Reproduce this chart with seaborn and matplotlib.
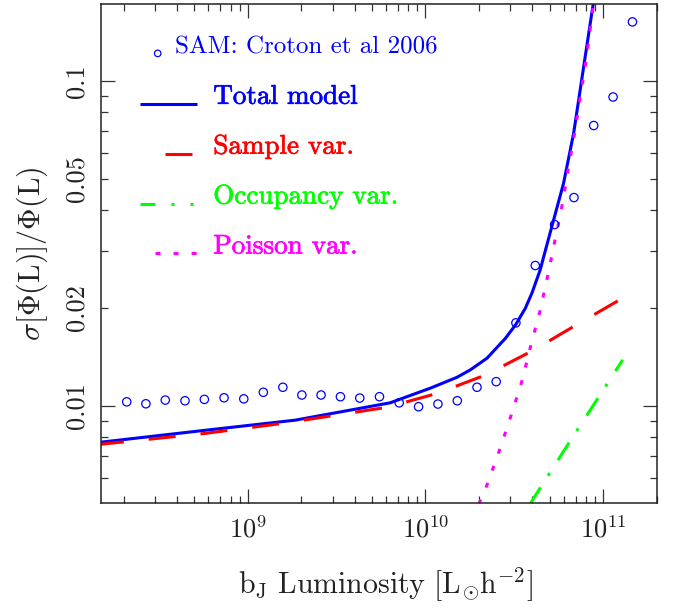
import numpy as np
import matplotlib
matplotlib.use("Agg")
import matplotlib.pyplot as plt
import matplotlib.patheffects as pe
from matplotlib.ticker import FixedLocator, FixedFormatter, LogLocator, NullFormatter
import seaborn as sns

# ---- data (log10 luminosity, fractional error) ----
sam_logL = [8.318, 8.426, 8.535, 8.646, 8.755, 8.866, 8.977, 9.087, 9.197,
            9.304, 9.412, 9.521, 9.630, 9.741, 9.852, 9.961, 10.070, 10.179,
            10.290, 10.398, 10.509, 10.618, 10.727, 10.836, 10.947, 11.056, 11.165]
sam_sigma = [0.01028, 0.01014, 0.01041, 0.01036, 0.01046, 0.01058, 0.01050, 0.01100, 0.01140,
             0.01079, 0.01079, 0.01066, 0.01056, 0.01066, 0.01021, 0.00993, 0.01012, 0.01036,
             0.01140, 0.01186, 0.01799, 0.0270, 0.0361, 0.0437, 0.0728, 0.0891, 0.1517]

total_logL = [8.15, 8.731, 9.267, 9.801, 10.026, 10.177, 10.252, 10.346, 10.449,
              10.509, 10.562, 10.599, 10.646, 10.665, 10.777, 10.834, 10.890, 10.946, 10.96]
total_sigma = [0.00770, 0.00837, 0.00903, 0.01021, 0.01132, 0.01223, 0.01289, 0.01400, 0.0161,
               0.0178, 0.01995, 0.0222, 0.0262, 0.0287, 0.0483, 0.0689, 0.110, 0.175, 0.19]

sample_logL = [8.15, 8.759, 9.198, 9.783, 10.064, 10.336, 10.599, 10.853, 11.106]
sample_sigma = [0.00759, 0.00822, 0.00883, 0.00989, 0.01091, 0.01242, 0.01473, 0.01778, 0.02138]

occ_logL = [10.585, 10.656, 10.821, 10.988, 11.110]
occ_sigma = [0.00495, 0.00570, 0.00789, 0.01091, 0.01384]

pois_logL = [10.300, 10.346, 10.417, 10.481, 10.543, 10.595, 10.646, 10.690, 10.731,
             10.772, 10.806, 10.843, 10.873, 10.905, 10.932, 10.946, 10.955]
pois_sigma = [0.00498, 0.00570, 0.00731, 0.00930, 0.01191, 0.01549, 0.01968, 0.02543, 0.03272,
              0.04214, 0.05437, 0.07054, 0.09036, 0.1164, 0.1508, 0.1730, 0.19]

x_ticks = [1e9, 1e10, 1e11]
x_ticklabels = [r"$10^{9}$", r"$10^{10}$", r"$10^{11}$"]
y_major = [0.01, 0.1]
y_minor = [0.006, 0.007, 0.008, 0.009, 0.02, 0.03, 0.04, 0.05, 0.06, 0.07, 0.08, 0.09]
y_minor_labels = ["", "", "", "", "0.02", "", "", "0.05", "", "", "", ""]
y_major_labels = ["0.01", "0.1"]

legend_labels = ["SAM: Croton et al 2006", "Total model", "Sample var.",
                 "Occupancy var.", "Poisson var."]

BLUE, RED, GREEN, MAGENTA = "#0000ff", "#ff0000", "#00ff00", "#ff00ff"
LW = 2.2
SAMPLE_DASH = (19.5, 18.0)
OCC_DASH = (15.0, 10.0, 2.2, 11.0)
POIS_DASH = (3.6, 9.4)

sns.set_style("ticks")
plt.rcParams.update({
    "font.family": ["cmr10", "DejaVu Serif"],
    "mathtext.fontset": "cm",
    "axes.formatter.use_mathtext": True,
    "lines.scale_dashes": False,
    "axes.edgecolor": "#222222",
    "axes.linewidth": 1.1,
})

fig = plt.figure(figsize=(6.74, 6.09), dpi=100)
ax = fig.add_axes([0.14985, 0.17406, 0.8249, 0.8194])
ax.set_xscale("log")
ax.set_yscale("log")


def draw_line(logL, sig, color, dashes=None):
    sns.lineplot(x=10 ** np.asarray(logL), y=sig, ax=ax, color=color, lw=LW,
                 estimator=None, sort=False)
    line = ax.lines[-1]
    line.set_dash_capstyle("butt")
    line.set_solid_capstyle("butt")
    if dashes is not None:
        line.set_dashes(dashes)
    return line


draw_line(total_logL, total_sigma, BLUE)
draw_line(sample_logL, sample_sigma, RED, SAMPLE_DASH)
draw_line(occ_logL, occ_sigma, GREEN, OCC_DASH)
draw_line(pois_logL, pois_sigma, MAGENTA, POIS_DASH)

sns.scatterplot(x=10 ** np.asarray(sam_logL), y=sam_sigma, ax=ax, marker="o",
                s=36, color=BLUE, zorder=5)
pts = ax.collections[-1]
pts.set_facecolor("none")
pts.set_edgecolor(BLUE)
pts.set_linewidth(0.9)

ax.set_xlim(1.49e8, 2.01e11)
ax.set_ylim(0.005021, 0.1722)

# ticks
ax.xaxis.set_major_locator(FixedLocator(x_ticks))
ax.xaxis.set_major_formatter(FixedFormatter(x_ticklabels))
ax.xaxis.set_minor_locator(LogLocator(base=10, subs=np.arange(2, 10)))
ax.xaxis.set_minor_formatter(NullFormatter())
ax.yaxis.set_major_locator(FixedLocator(y_major))
ax.yaxis.set_major_formatter(FixedFormatter(y_major_labels))
ax.yaxis.set_minor_locator(FixedLocator(y_minor))
ax.yaxis.set_minor_formatter(FixedFormatter(y_minor_labels))

ax.tick_params(which="both", direction="in", top=True, right=True,
               color="#333333", width=0.9, labelsize=19, labelcolor="#222222")
ax.tick_params(which="major", length=10)
ax.tick_params(which="minor", length=5)
ax.tick_params(axis="x", which="both", pad=9)
ax.tick_params(axis="y", which="both", pad=9, labelrotation=90)
for lab in ax.get_yticklabels(which="both"):
    lab.set_va("center")

ax.set_xlabel(r"$\mathrm{b_J\ Luminosity\ [L_{\!\odot}\!h^{-2}]}$", fontsize=21.5, color="#222222")
ax.set_ylabel(r"$\sigma[\Phi(\mathrm{L})]/\Phi(\mathrm{L})$", fontsize=21.5, color="#222222")
ax.xaxis.set_label_coords(0.511, -0.164)
ax.xaxis.label.set_va("center")
ax.yaxis.set_label_coords(-0.124, 0.5)
ax.yaxis.label.set_va("center")

# key, drawn inside the frame in axes coordinates
tr = ax.transAxes
ax.scatter([0.102], [0.901], transform=tr, s=22, facecolors="none",
           edgecolors=BLUE, linewidths=0.9, clip_on=False)
ax.text(0.133, 0.901, legend_labels[0], transform=tr, color=BLUE, fontsize=18, va="baseline")

key_rows = [
    (legend_labels[1], BLUE, None, (0.070, 0.172), 0.80),
    (legend_labels[2], RED, None, (0.115, 0.163), 0.70),
    (legend_labels[3], GREEN, (10.8, 11.5, 2.2, 11.5, 2.2, 20.0), (0.070, 0.172), 0.60),
    (legend_labels[4], MAGENTA, POIS_DASH, (0.097, 0.172), 0.50),
]
for text, color, dashes, (x0, x1), yb in key_rows:
    (ln,) = ax.plot([x0, x1], [yb, yb], transform=tr, color=color, lw=LW,
                    solid_capstyle="butt", dash_capstyle="butt")
    if dashes is not None:
        ln.set_dashes(dashes)
    ax.text(0.202, yb, text, transform=tr, color=color, fontsize=19.5, va="baseline",
            path_effects=[pe.withStroke(linewidth=0.5, foreground=color)])

fig.savefig("out.png", dpi=100)
